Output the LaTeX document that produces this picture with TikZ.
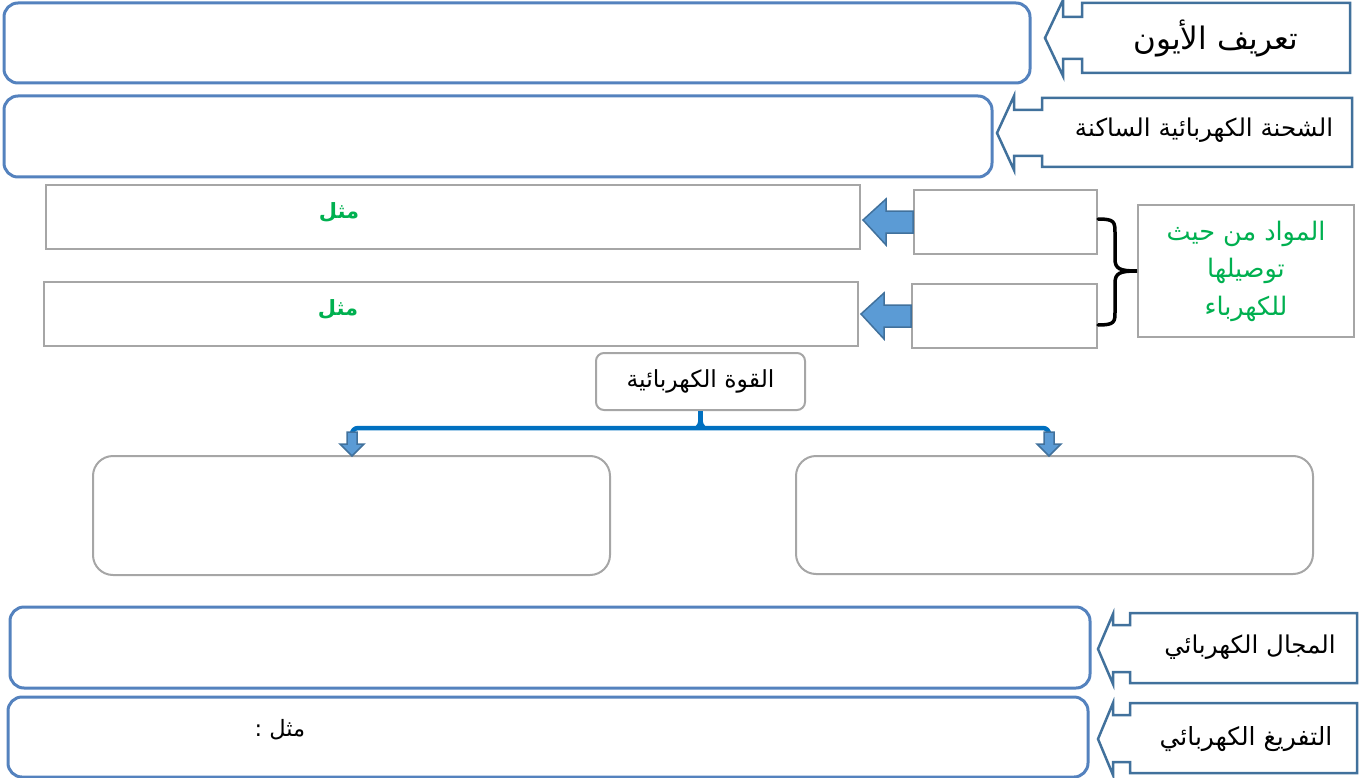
\documentclass[tikz,border=0pt]{standalone}
\usepackage{fontspec}
\usetikzlibrary{calc}
\TeXXeTstate=1
\newfontfamily\arabicfont[Script=Arabic]{DejaVu Sans}
\definecolor{mainblue}{RGB}{84,130,190}
\definecolor{callblue}{RGB}{65,113,156}
\definecolor{boxgray}{RGB}{166,166,166}
\definecolor{arrowfill}{RGB}{91,155,213}
\definecolor{arrowedge}{RGB}{65,113,156}
\definecolor{linkblue}{RGB}{0,112,192}
\definecolor{txtgreen}{RGB}{0,176,80}
\tikzset{
  mainbox/.style={draw=mainblue, line width=3pt, rounded corners=14pt, inner sep=0pt},
  callout/.style={draw=callblue, line width=2.5pt, fill=white, line join=miter},
  calltext/.style={font=\arabicfont\fontsize{24}{28}\selectfont, text=black},
  graybox/.style={draw=boxgray, line width=2pt, inner sep=0pt},
  roundgray/.style={draw=boxgray, line width=2pt, rounded corners=20pt, inner sep=0pt},
  fatarrow/.style={draw=arrowedge, line width=1.5pt, fill=arrowfill, line join=miter},
  link/.style={draw=linkblue, line width=4.5pt},
  greenlabel/.style={font=\arabicfont\bfseries\fontsize{21}{24}\selectfont, text=txtgreen},
}
\begin{document}
\begin{tikzpicture}[x=1pt,y=-1pt]
\useasboundingbox (0,0) rectangle (1359,778);

% main boxes
\node[mainbox, minimum width=1026pt, minimum height=80pt] (m1) at (517,43) {};
\node[mainbox, minimum width=988pt, minimum height=81pt] (m2) at (498,136.5) {};
\node[mainbox, minimum width=1080pt, minimum height=81pt] (m3) at (550,647.5) {};
\node[mainbox, minimum width=1080pt, minimum height=80pt] (m4) at (548,737) {};

% callouts
\draw[callout] (1082,3) -- (1350,3) -- (1350,73) -- (1082,73) -- (1082,59) -- (1063,59) -- (1063,76) -- (1045,38) -- (1063,0) -- (1063,17) -- (1082,17) -- cycle;
\node[calltext, font=\arabicfont\fontsize{31}{36}\selectfont] (c1) at (1216,38) {\beginR تعريف الأيون\endR};

\draw[callout] (1042,98) -- (1352,98) -- (1352,167) -- (1042,167) -- (1042,156) -- (1014,156) -- (1014,170) -- (997,133) -- (1014,96) -- (1014,110) -- (1042,110) -- cycle;
\node[calltext, font=\arabicfont\fontsize{24.5}{28}\selectfont] (c2) at (1204,130) {\beginR الشحنة الكهربائية الساكنة\endR};

\draw[callout] (1130,613) -- (1357,613) -- (1357,683) -- (1130,683) -- (1130,672) -- (1113,672) -- (1113,684) -- (1098,649) -- (1113,614) -- (1113,625) -- (1130,625) -- cycle;
\node[calltext, font=\arabicfont\fontsize{24.5}{28}\selectfont] (c3) at (1250,647) {\beginR المجال الكهربائي\endR};

\draw[callout] (1130,703) -- (1357,703) -- (1357,773) -- (1130,773) -- (1130,762) -- (1113,762) -- (1113,775) -- (1098,739) -- (1113,703) -- (1113,715) -- (1130,715) -- cycle;
\node[calltext, font=\arabicfont\fontsize{25}{28}\selectfont] (c4) at (1246,739) {\beginR التفريغ الكهربائي\endR};

\node[calltext, font=\arabicfont\fontsize{22.5}{26}\selectfont] (ex) at (280,730) {\beginR مثل :\endR};

% materials section
\node[graybox, minimum width=814pt, minimum height=64pt] (a) at (453,217) {};
\node[greenlabel] (ag) at (339,212) {\beginR مثل\endR};
\node[graybox, minimum width=814pt, minimum height=64pt] (b) at (451,314) {};
\node[greenlabel] (bg) at (338,309) {\beginR مثل\endR};
\node[graybox, minimum width=183pt, minimum height=64pt] (c) at (1005.5,222) {};
\node[graybox, minimum width=185pt, minimum height=64pt] (d) at (1004.5,316) {};
\node[graybox, minimum width=216pt, minimum height=132pt, align=center,
      font=\arabicfont\fontsize{25.5}{37.5}\selectfont, text=txtgreen] (g) at (1246,271)
  {\beginR المواد من حيث\endR\\ \beginR توصيلها\endR\\ \beginR للكهرباء\endR};

\draw[fatarrow] ($(c.west)+(0,-11)$) -- ++(-27,0) -- ++(0,-12) -- ($(a.east)+(2,3)$) -- ($(c.west)+(-27,23)$) -- ++(0,-12) -- ($(c.west)+(0,11)$) -- cycle;
\draw[fatarrow] ($(d.west)+(0,-11)$) -- ++(-27,0) -- ++(0,-12) -- ($(b.east)+(2,0)$) -- ($(d.west)+(-27,23)$) -- ++(0,-12) -- ($(d.west)+(0,11)$) -- cycle;

% brace
\coordinate (bt) at (1098,219);
\coordinate (bb) at (1098,325);
\draw[black, line width=3.5pt, line cap=round] (bt) .. controls (1115,219) and (1115,222) .. (1115,234) -- (1115,259) .. controls (1115,269) and (1120,271) .. (g.west) .. controls (1120,271) and (1115,273) .. (1115,283) -- (1115,311) .. controls (1115,322) and (1115,325) .. (bb);

% electric force
\node[draw=boxgray, line width=2pt, rounded corners=8pt, minimum width=209pt, minimum height=57pt,
      font=\arabicfont\fontsize{23.5}{28}\selectfont] (f) at (700.5,381.5) {\beginR القوة الكهربائية\endR};
\node[roundgray, minimum width=517pt, minimum height=119pt] (l) at (351.5,515.5) {};
\node[roundgray, minimum width=517pt, minimum height=118pt] (r) at (1054.5,515) {};

\coordinate (j) at (700,428);
\coordinate (la) at (352,434);
\coordinate (ra) at (1049,434);
\draw[link, rounded corners=6pt] (la) |- (j) -| (ra);
\draw[link] (f.south) -- ++(0,8) coordinate (jt);
\fill[linkblue] ($(jt)+(-2.25,0)$) -- ($(jt)+(2.25,0)$) .. controls ($(jt)+(2.5,8)$) and ($(jt)+(6,8)$) .. ($(jt)+(10,8)$) -- ($(jt)+(-10,8)$) .. controls ($(jt)+(-6,8)$) and ($(jt)+(-2.5,8)$) .. cycle;

\draw[fatarrow] ($(la)+(-5,-2)$) -- ++(0,12) -- ++(-7,0) -- ($(l.north -| la)+(0,1)$) -- ($(la)+(12,10)$) -- ++(-7,0) -- ++(0,-12) -- cycle;
\draw[fatarrow] ($(ra)+(-5,-2)$) -- ++(0,12) -- ++(-7,0) -- ($(r.north -| ra)+(0,1)$) -- ($(ra)+(12,10)$) -- ++(-7,0) -- ++(0,-12) -- cycle;
\end{tikzpicture}
\end{document}
